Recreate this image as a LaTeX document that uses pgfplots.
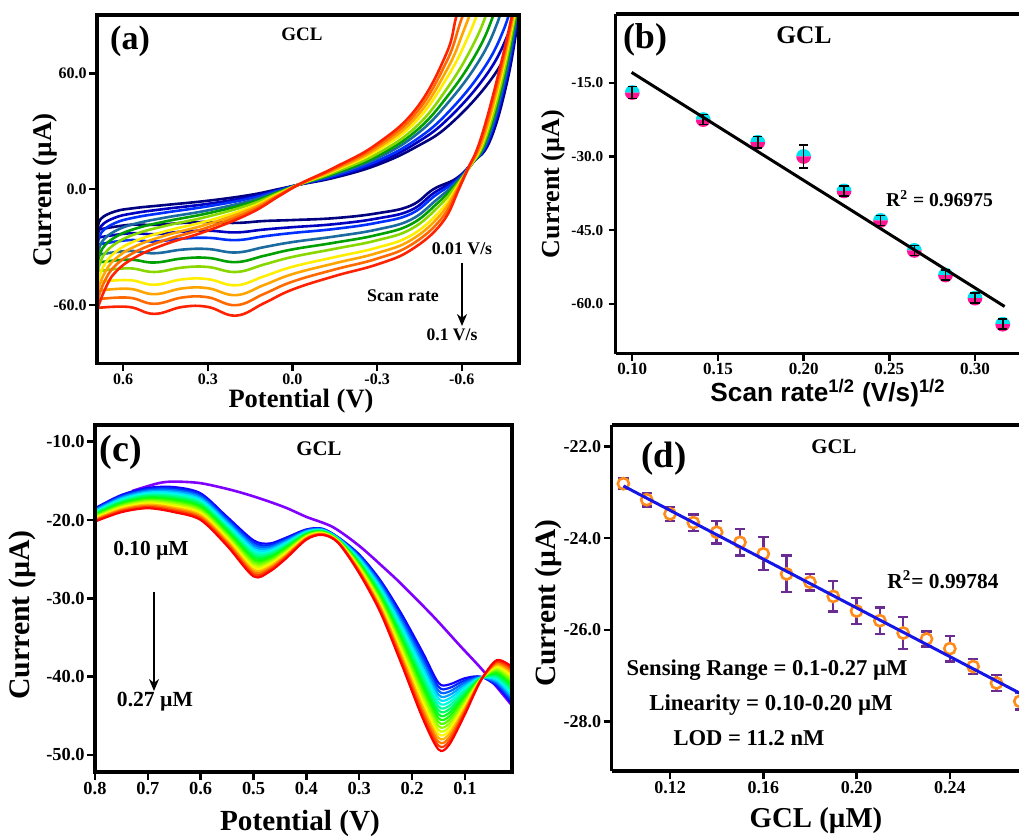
\documentclass[border=0pt]{standalone}
\usepackage{fontspec}
\setmainfont{Liberation Serif}
\newfontfamily\sansfam{Liberation Sans}
\usepackage{pgfplots}
\pgfplotsset{compat=1.18}
\usepackage{pgfplotstable}
\usetikzlibrary{arrows.meta}
\newcommand\fs[1]{\fontsize{#1}{#1}\selectfont\bfseries}
\definecolor{ca1}{HTML}{000080}
\definecolor{ca2}{HTML}{0000C0}
\definecolor{ca3}{HTML}{0030FF}
\definecolor{ca4}{HTML}{1A6BA0}
\definecolor{ca5}{HTML}{00A000}
\definecolor{ca6}{HTML}{88D800}
\definecolor{ca7}{HTML}{FFEE00}
\definecolor{ca8}{HTML}{FFA500}
\definecolor{ca9}{HTML}{FF6A00}
\definecolor{ca10}{HTML}{FF2200}
\definecolor{mkcyan}{HTML}{00E0F0}
\definecolor{mkpink}{HTML}{FF1493}
\definecolor{violetc}{HTML}{8000FF}
\definecolor{orangem}{HTML}{FF8C1A}
\definecolor{errpurple}{HTML}{6A2C91}
\definecolor{fitblue}{HTML}{1515E6}
\definecolor{r0}{rgb}{0.08,0,1}
\definecolor{r1}{rgb}{0,0.16,1}
\definecolor{r2}{rgb}{0,0.4,1}
\definecolor{r3}{rgb}{0,0.64,1}
\definecolor{r4}{rgb}{0,0.88,1}
\definecolor{r5}{rgb}{0,1,0.88}
\definecolor{r6}{rgb}{0,1,0.64}
\definecolor{r7}{rgb}{0,1,0.4}
\definecolor{r8}{rgb}{0,1,0.16}
\definecolor{r9}{rgb}{0.08,1,0}
\definecolor{r10}{rgb}{0.32,1,0}
\definecolor{r11}{rgb}{0.56,1,0}
\definecolor{r12}{rgb}{0.8,1,0}
\definecolor{r13}{rgb}{1,0.96,0}
\definecolor{r14}{rgb}{1,0.72,0}
\definecolor{r15}{rgb}{1,0.48,0}
\definecolor{r16}{rgb}{1,0.24,0}
\definecolor{r17}{rgb}{1,0,0}
\pgfdeclareplotmark{cyanpink}{%
  \pgfpathmoveto{\pgfqpoint{\pgfplotmarksize}{0pt}}%
  \pgfpatharc{0}{180}{\pgfplotmarksize}%
  \pgfpathclose
  \pgfsetfillcolor{mkcyan}\pgfusepathqfill
  \pgfpathmoveto{\pgfqpoint{-\pgfplotmarksize}{0pt}}%
  \pgfpatharc{180}{360}{\pgfplotmarksize}%
  \pgfpathclose
  \pgfsetfillcolor{mkpink}\pgfusepathqfill
}
\pgfplotstableread{
x c0 c1 c2 c3 c4 c5 c6 c7 c8 c9 c10 c11 c12 c13 c14 c15 c16 c17
0.80 -18.5 -18.6 -18.7 -18.8 -18.9 -19.0 -19.1 -19.2 -19.3 -19.4 -19.5 -19.6 -19.7 -19.8 -19.9 -20.0 -20.1 -20.2
0.75 -16.8 -16.93 -17.06 -17.19 -17.32 -17.45 -17.58 -17.71 -17.84 -17.96 -18.09 -18.22 -18.35 -18.48 -18.61 -18.74 -18.87 -19.0
0.70 -15.9 -16.05 -16.21 -16.36 -16.51 -16.66 -16.82 -16.97 -17.12 -17.28 -17.43 -17.58 -17.74 -17.89 -18.04 -18.19 -18.35 -18.5
0.65 -15.8 -15.99 -16.18 -16.36 -16.55 -16.74 -16.93 -17.12 -17.31 -17.49 -17.68 -17.87 -18.06 -18.25 -18.44 -18.62 -18.81 -19.0
0.60 -16.6 -16.8 -17.0 -17.2 -17.4 -17.6 -17.8 -18.0 -18.2 -18.4 -18.6 -18.8 -19.0 -19.2 -19.4 -19.6 -19.8 -20.0
0.55 -19.6 -19.82 -20.04 -20.25 -20.47 -20.69 -20.91 -21.12 -21.34 -21.56 -21.78 -21.99 -22.21 -22.43 -22.65 -22.86 -23.08 -23.3
0.50 -22.6 -22.87 -23.14 -23.41 -23.68 -23.95 -24.22 -24.49 -24.76 -25.04 -25.31 -25.58 -25.85 -26.12 -26.39 -26.66 -26.93 -27.2
0.47 -23.0 -23.21 -23.42 -23.64 -23.85 -24.06 -24.27 -24.48 -24.69 -24.91 -25.12 -25.33 -25.54 -25.75 -25.96 -26.18 -26.39 -26.6
0.44 -22.3 -22.46 -22.62 -22.78 -22.94 -23.09 -23.25 -23.41 -23.57 -23.73 -23.89 -24.05 -24.21 -24.36 -24.52 -24.68 -24.84 -25.0
0.40 -21.2 -21.28 -21.35 -21.43 -21.51 -21.58 -21.66 -21.74 -21.81 -21.89 -21.96 -22.04 -22.12 -22.19 -22.27 -22.35 -22.42 -22.5
0.37 -21.1 -21.15 -21.19 -21.24 -21.29 -21.34 -21.38 -21.43 -21.48 -21.52 -21.57 -21.62 -21.66 -21.71 -21.76 -21.81 -21.85 -21.9
0.34 -22.2 -22.24 -22.28 -22.32 -22.36 -22.41 -22.45 -22.49 -22.53 -22.57 -22.61 -22.65 -22.69 -22.74 -22.78 -22.82 -22.86 -22.9
0.30 -24.4 -24.54 -24.68 -24.82 -24.96 -25.11 -25.25 -25.39 -25.53 -25.67 -25.81 -25.95 -26.09 -26.24 -26.38 -26.52 -26.66 -26.8
0.26 -27.7 -27.94 -28.18 -28.42 -28.66 -28.91 -29.15 -29.39 -29.63 -29.87 -30.11 -30.35 -30.59 -30.84 -31.08 -31.32 -31.56 -31.8
0.22 -32.0 -32.38 -32.75 -33.13 -33.51 -33.88 -34.26 -34.64 -35.01 -35.39 -35.76 -36.14 -36.52 -36.89 -37.27 -37.65 -38.02 -38.4
0.18 -36.9 -37.39 -37.89 -38.38 -38.88 -39.37 -39.86 -40.36 -40.85 -41.35 -41.84 -42.34 -42.83 -43.32 -43.82 -44.31 -44.81 -45.3
0.15 -40.8 -41.3 -41.8 -42.3 -42.8 -43.3 -43.8 -44.3 -44.8 -45.3 -45.8 -46.3 -46.8 -47.3 -47.8 -48.3 -48.8 -49.3
0.13 -41.0 -41.45 -41.91 -42.36 -42.81 -43.26 -43.72 -44.17 -44.62 -45.08 -45.53 -45.98 -46.44 -46.89 -47.34 -47.79 -48.25 -48.7
0.10 -40.2 -40.47 -40.74 -41.01 -41.28 -41.55 -41.82 -42.09 -42.36 -42.64 -42.91 -43.18 -43.45 -43.72 -43.99 -44.26 -44.53 -44.8
0.07 -40.0 -40.03 -40.06 -40.09 -40.12 -40.15 -40.18 -40.21 -40.24 -40.26 -40.29 -40.32 -40.35 -40.38 -40.41 -40.44 -40.47 -40.5
0.04 -41.2 -41.01 -40.81 -40.62 -40.42 -40.23 -40.04 -39.84 -39.65 -39.45 -39.26 -39.06 -38.87 -38.68 -38.48 -38.29 -38.09 -37.9
0.012 -43.4 -43.12 -42.85 -42.57 -42.29 -42.02 -41.74 -41.46 -41.19 -40.91 -40.64 -40.36 -40.08 -39.81 -39.53 -39.25 -38.98 -38.7
}\dpv
\pgfplotsset{
  panel/.style={scale only axis, anchor=south west, axis on top,
    axis line style={line width=1.8pt},
    tick style={line width=1.2pt, black},
    major tick length=4pt, tick align=outside,
    xtick pos=left, ytick pos=left,
    ticklabel style={inner sep=1pt}},
  cv/.style={smooth, tension=0.7, line width=1.3pt},
}
\begin{document}
\begin{tikzpicture}
\useasboundingbox (0,0) rectangle (509.5pt,418.5pt);
% ---------------- (a) ----------------
\begin{axis}[panel, at={(48.5pt,236.75pt)}, width=211pt, height=174.25pt,
  x dir=reverse, xmin=-0.803, xmax=0.693, ymin=-90.3, ymax=90.2,
  xtick={-0.6,-0.3,0,0.3,0.6}, xticklabels={-0.6,-0.3,0.0,0.3,0.6},
  ytick={-60,0,60}, yticklabels={-60.0,0.0,60.0},
  ticklabel style={font={\fs{8}}}]
\addplot[cv, ca1] coordinates {(-0.81,100) (-0.80,88) (-0.76,55) (-0.70,25) (-0.64,14) (-0.58,5.5) (-0.50,0) (-0.42,-8.5) (-0.30,-12.5) (-0.15,-15) (0,-16) (0.10,-16.5) (0.20,-17.5) (0.30,-17) (0.39,-17.5) (0.49,-18.5) (0.58,-18.5) (0.69,-21)};
\addplot[cv, ca1] coordinates {(0.69,-21) (0.68,-15.5) (0.63,-11.6) (0.56,-9.8) (0.45,-8.2) (0.30,-6) (0.15,-3) (0.05,0) (-0.03,2.5) (-0.15,6) (-0.30,12.5) (-0.44,22) (-0.558,33.5) (-0.70,56) (-0.78,77) (-0.82,95)};
\addplot[cv, ca2] coordinates {(-0.807,100) (-0.798,88.2) (-0.756,55.1) (-0.696,25) (-0.638,13.6) (-0.581,4.9) (-0.503,-1.8) (-0.42,-10.9) (-0.30,-15.2) (-0.15,-18.1) (0,-19.7) (0.10,-20.9) (0.20,-22.4) (0.30,-21.5) (0.39,-22.0) (0.49,-23.3) (0.58,-22.9) (0.69,-25.1)};
\addplot[cv, ca2] coordinates {(0.69,-25.1) (0.679,-19.2) (0.63,-14.8) (0.56,-12.4) (0.45,-10.2) (0.30,-7.6) (0.15,-4.0) (0.05,-0.4) (-0.03,2.6) (-0.15,6.5) (-0.30,13.6) (-0.44,24.0) (-0.557,37.2) (-0.688,59.3) (-0.763,79.8) (-0.80,97.5)};
\addplot[cv, ca3] coordinates {(-0.805,100) (-0.796,88.4) (-0.753,55.2) (-0.693,25) (-0.636,13.3) (-0.582,4.5) (-0.506,-3.3) (-0.42,-12.8) (-0.30,-17.4) (-0.15,-20.6) (0,-22.7) (0.10,-24.4) (0.20,-26.4) (0.30,-25.2) (0.39,-25.6) (0.49,-27.1) (0.58,-26.4) (0.69,-28.7)};
\addplot[cv, ca3] coordinates {(0.69,-28.7) (0.677,-22.4) (0.63,-17.6) (0.56,-14.7) (0.45,-12.1) (0.30,-8.9) (0.15,-4.8) (0.05,-0.7) (-0.03,2.6) (-0.15,7.0) (-0.30,14.6) (-0.44,25.8) (-0.556,40.4) (-0.677,62.3) (-0.748,82.3) (-0.784,99.8)};
\addplot[cv, ca4] coordinates {(-0.802,100) (-0.793,88.6) (-0.749,55.3) (-0.689,25) (-0.634,12.7) (-0.583,3.8) (-0.51,-5.6) (-0.42,-15.8) (-0.30,-20.9) (-0.15,-24.5) (0,-27.4) (0.10,-30.0) (0.20,-32.8) (0.30,-31.0) (0.39,-31.3) (0.49,-33.2) (0.58,-32.0) (0.69,-34.0)};
\addplot[cv, ca4] coordinates {(0.69,-34.0) (0.675,-27.2) (0.63,-21.8) (0.56,-18.0) (0.45,-14.7) (0.30,-11.0) (0.15,-6.0) (0.05,-1.2) (-0.03,2.7) (-0.15,7.7) (-0.30,16.0) (-0.44,28.4) (-0.554,45.2) (-0.662,66.6) (-0.726,86.0) (-0.759,103)};
\addplot[cv, ca5] coordinates {(-0.799,100) (-0.791,88.8) (-0.745,55.4) (-0.685,25) (-0.632,12.3) (-0.584,3.2) (-0.513,-7.4) (-0.42,-18.2) (-0.30,-23.7) (-0.15,-27.7) (0,-31.2) (0.10,-34.5) (0.20,-37.8) (0.30,-35.6) (0.39,-35.9) (0.49,-38.0) (0.58,-36.5) (0.69,-38.0)};
\addplot[cv, ca5] coordinates {(0.69,-38.0) (0.674,-30.8) (0.63,-25.0) (0.56,-20.6) (0.45,-16.7) (0.30,-12.5) (0.15,-7.0) (0.05,-1.6) (-0.03,2.7) (-0.15,8.2) (-0.30,17.1) (-0.44,30.4) (-0.553,48.8) (-0.650,69.9) (-0.709,88.8) (-0.74,105.5)};
\addplot[cv, ca6] coordinates {(-0.797,100) (-0.788,89.1) (-0.741,55.5) (-0.681,25) (-0.629,11.9) (-0.585,2.6) (-0.516,-9.3) (-0.42,-20.7) (-0.30,-26.5) (-0.15,-30.9) (0,-35.1) (0.10,-39.0) (0.20,-42.9) (0.30,-40.3) (0.39,-40.6) (0.49,-42.9) (0.58,-41.0) (0.69,-42.5)};
\addplot[cv, ca6] coordinates {(0.69,-42.5) (0.672,-34.8) (0.63,-28.5) (0.56,-23.4) (0.45,-19.0) (0.30,-14.2) (0.15,-8.0) (0.05,-2.0) (-0.03,2.8) (-0.15,8.8) (-0.30,18.3) (-0.44,32.6) (-0.551,52.8) (-0.636,73.5) (-0.69,91.8) (-0.719,108.3)};
\addplot[cv, ca7] coordinates {(-0.793,100) (-0.785,89.3) (-0.736,55.7) (-0.676,25) (-0.627,11.3) (-0.587,1.8) (-0.52,-11.8) (-0.42,-24.0) (-0.30,-30.3) (-0.15,-35.2) (0,-40.2) (0.10,-45.1) (0.20,-49.8) (0.30,-46.6) (0.39,-46.7) (0.49,-49.5) (0.58,-47.1) (0.69,-48.1)};
\addplot[cv, ca7] coordinates {(0.69,-48.1) (0.67,-40.0) (0.63,-32.9) (0.56,-27.0) (0.45,-21.8) (0.30,-16.4) (0.15,-9.4) (0.05,-2.5) (-0.03,2.8) (-0.15,9.6) (-0.30,19.9) (-0.44,35.4) (-0.549,58.0) (-0.62,78.1) (-0.666,95.8) (-0.693,111.8)};
\addplot[cv, ca8] coordinates {(-0.791,100) (-0.783,89.6) (-0.732,55.8) (-0.673,25) (-0.624,10.9) (-0.588,1.2) (-0.523,-13.6) (-0.42,-26.4) (-0.30,-33.1) (-0.15,-38.4) (0,-44.0) (0.10,-49.6) (0.20,-54.9) (0.30,-51.3) (0.39,-51.4) (0.49,-54.4) (0.58,-51.6) (0.69,-52.6)};
\addplot[cv, ca8] coordinates {(0.69,-52.6) (0.668,-44.0) (0.63,-36.4) (0.56,-29.8) (0.45,-24.0) (0.30,-18.1) (0.15,-10.4) (0.05,-3.0) (-0.03,2.9) (-0.15,10.1) (-0.30,21.1) (-0.44,37.6) (-0.548,62.0) (-0.606,81.7) (-0.647,98.8) (-0.672,114.5)};
\addplot[cv, ca9] coordinates {(-0.788,100) (-0.78,89.8) (-0.728,55.9) (-0.669,25) (-0.622,10.5) (-0.589,0.6) (-0.527,-15.5) (-0.42,-28.9) (-0.30,-36.0) (-0.15,-41.6) (0,-47.9) (0.10,-54.2) (0.20,-60.1) (0.30,-56.0) (0.39,-56.1) (0.49,-59.4) (0.58,-56.2) (0.69,-57.0)};
\addplot[cv, ca9] coordinates {(0.69,-57.0) (0.667,-48.0) (0.63,-39.9) (0.56,-32.7) (0.45,-26.3) (0.30,-19.8) (0.15,-11.5) (0.05,-3.4) (-0.03,2.9) (-0.15,10.7) (-0.30,22.3) (-0.44,39.8) (-0.546,66.0) (-0.593,85.4) (-0.629,101.9) (-0.651,117.3)};
\addplot[cv, ca10] coordinates {(-0.785,100) (-0.778,90) (-0.724,56) (-0.665,25) (-0.62,10) (-0.59,0) (-0.53,-17.5) (-0.42,-31.5) (-0.30,-39) (-0.15,-45) (0,-52) (0.10,-59) (0.20,-65.5) (0.30,-61) (0.39,-61) (0.49,-64.6) (0.58,-61) (0.69,-61.5)};
\addplot[cv, ca10] coordinates {(0.69,-61.5) (0.665,-52) (0.63,-43.4) (0.56,-35.5) (0.45,-28.5) (0.30,-21.5) (0.15,-12.5) (0.05,-3.8) (-0.03,3) (-0.15,11.3) (-0.30,23.5) (-0.44,42) (-0.545,70) (-0.58,89) (-0.61,105) (-0.63,120)};
\end{axis}
% ---------------- (b) ----------------
\begin{axis}[panel, at={(307.75pt,241.75pt)}, width=201.75pt, height=169.75pt,
  axis x line*=box, axis y line*=left, xtick pos=left, ytick pos=left,
  major tick length=3.5pt, clip marker paths=true,
  xmin=0.0902, xmax=0.3257, ymin=-70.06, ymax=-1.03,
  xtick={0.10,0.15,0.20,0.25,0.30}, xticklabels={0.10,0.15,0.20,0.25,0.30},
  ytick={-60,-45,-30,-15}, yticklabels={-60.0,-45.0,-30.0,-15.0},
  xticklabel style={font={\fs{8.5}}}, yticklabel style={font={\fs{7.6}}, xshift=-1.5pt}]
\addplot[only marks, mark=cyanpink, mark size=3.7pt] table[x=x,y=y] {
x y
0.1000 -17.0
0.1414 -22.5
0.1732 -27.1
0.2000 -30.0
0.2236 -37.0
0.2449 -43.0
0.2646 -49.1
0.2828 -54.1
0.3000 -58.8
0.3162 -64.1
};
\addplot[black, line width=1.5pt] coordinates {(0.0996,-12.9) (0.3173,-60.5)};
\addplot[draw=none, mark=none, error bars/.cd, y dir=both, y explicit,
  error bar style={line width=0.8pt, draw=black},
  error mark options={rotate=90, mark size=2.3pt, line width=0.8pt, draw=black}]
  table[x=x,y=y,y error=e] {
x y e
0.1000 -17.0 1.2
0.1414 -22.5 1.0
0.1732 -27.1 1.2
0.2000 -30.0 2.3
0.2236 -37.0 1.0
0.2449 -43.0 1.0
0.2646 -49.1 1.0
0.2828 -54.1 1.0
0.3000 -58.8 1.0
0.3162 -64.1 1.0
};
\end{axis}
% ---------------- (c) ----------------
\begin{axis}[panel, at={(47.5pt,32.5pt)}, width=208.5pt, height=173.5pt,
  x dir=reverse, xmin=0.011, xmax=0.8, ymin=-52.17, ymax=-7.87,
  xtick={0.1,0.2,0.3,0.4,0.5,0.6,0.7,0.8}, xticklabels={0.1,0.2,0.3,0.4,0.5,0.6,0.7,0.8},
  ytick={-50,-40,-30,-20,-10}, yticklabels={-50.0,-40.0,-30.0,-20.0,-10.0},
  ticklabel style={font={\fs{9.2}}}]
\addplot[smooth, tension=0.5, violetc, line width=1.3pt] coordinates {(0.73,-16.3) (0.68,-15.3) (0.65,-15.1) (0.60,-15.3) (0.54,-16.2) (0.49,-17.2) (0.44,-18.4) (0.40,-19.6) (0.35,-20.9) (0.30,-23.3) (0.25,-26.3) (0.22,-28.2) (0.16,-32.3) (0.11,-36.0) (0.07,-38.9) (0.04,-41.3) (0.012,-43.6)};
\pgfplotsinvokeforeach{0,...,17}{
  \addplot[smooth, tension=0.5, color=r#1, line width=1.1pt] table[x=x, y=c#1] {\dpv};
}
\end{axis}
% ---------------- (d) ----------------
\begin{axis}[panel, at={(305.75pt,33pt)}, width=204.5pt, height=173pt,
  axis x line*=box, axis y line*=left, xtick pos=left, ytick pos=left,
  clip marker paths=true,
  xmin=0.0949, xmax=0.2703, ymin=-29.08, ymax=-21.53,
  xtick={0.12,0.16,0.20,0.24}, xticklabels={0.12,0.16,0.20,0.24},
  ytick={-28,-26,-24,-22}, yticklabels={-28.0,-26.0,-24.0,-22.0},
  ticklabel style={font={\fs{9}}}]
\addplot[draw=none, mark=none, error bars/.cd, y dir=both, y explicit,
  error bar style={line width=1.2pt, draw=errpurple},
  error mark options={rotate=90, mark size=2.6pt, line width=1.2pt, draw=errpurple}]
  table[x=x,y=y,y error=e] {
x y e
0.10 -22.81 0.11
0.11 -23.16 0.15
0.12 -23.47 0.15
0.13 -23.66 0.18
0.14 -23.87 0.25
0.15 -24.09 0.29
0.16 -24.34 0.36
0.17 -24.78 0.40
0.18 -24.96 0.18
0.19 -25.27 0.33
0.20 -25.59 0.28
0.21 -25.80 0.29
0.22 -26.07 0.35
0.23 -26.20 0.16
0.24 -26.41 0.28
0.25 -26.80 0.16
0.26 -27.16 0.18
0.27 -27.56 0.18
};
\addplot[only marks, mark=*, mark size=2.8pt, mark options={draw=orangem, fill=white, line width=1.3pt}] table[x=x,y=y] {
x y
0.10 -22.81
0.11 -23.16
0.12 -23.47
0.13 -23.66
0.14 -23.87
0.15 -24.09
0.16 -24.34
0.17 -24.78
0.18 -24.96
0.19 -25.27
0.20 -25.59
0.21 -25.80
0.22 -26.07
0.23 -26.20
0.24 -26.41
0.25 -26.80
0.26 -27.16
0.27 -27.56
};
\addplot[fitblue, line width=1.5pt] coordinates {(0.10,-22.86) (0.2703,-27.39)};
\end{axis}
% ---------------- annotations ----------------
\begin{scope}[x=0.5pt, y=-0.5pt, shift={(0pt,418.5pt)}]
% (a)
\node[font={\fs{17}}] at (130,41) {(a)};
\node[font={\fs{9.5}}] at (302,34) {GCL};
\node[font={\fs{8.9}}] at (462,248.5) {0.01 V/s};
\node[font={\fs{8.9}}] at (403,296) {Scan rate};
\node[font={\fs{8.8}}] at (452,335) {0.1 V/s};
\draw[line width=1pt, -{Stealth[length=6pt,width=5pt]}] (462,263) -- (462,326);
\node[font={\fs{13.5}}, rotate=90] at (45,190) {Current (µA)};
\node[font={\fs{13.25}}] at (301,401) {Potential (V)};
% (b)
\node[font={\fs{18}}] at (645,40) {(b)};
\node[font={\fs{12.7}}] at (804,35.7) {GCL};
\node[font={\fs{9.8}}] at (939.5,198.5) {R\textsuperscript{2} = 0.96975};
\node[font={\fs{13}}, rotate=90] at (553,184) {Current (µA)};
\node[font={\sansfam\fontsize{13.1}{14}\selectfont\bfseries}] at (828,393) {Scan rate\textsuperscript{1/2} (V/s)\textsuperscript{1/2}};
% (c)
\node[font={\fs{19}}] at (121,452) {(c)};
\node[font={\fs{10.4}}] at (319,449) {GCL};
\node[font={\fs{10.7}}] at (151,551) {0.10 µM};
\node[font={\fs{10.8}}] at (155,702) {0.27 µM};
\draw[line width=1pt, -{Stealth[length=6pt,width=5pt]}] (154,592) -- (154,691);
\node[font={\fs{14.9}}, rotate=90] at (22,615) {Current (µA)};
\node[font={\fs{14.6}}] at (300,823) {Potential (V)};
% (d)
\node[font={\fs{18.4}}] at (664,459) {(d)};
\node[font={\fs{10.4}}] at (834,446.5) {GCL};
\node[font={\fs{10.7}}] at (943,580) {R\textsuperscript{2}= 0.99784};
\node[font={\fs{11.3}}] at (767,670) {Sensing Range = 0.1-0.27 µM};
\node[font={\fs{11.4}}] at (771,705) {Linearity = 0.10-0.20 µM};
\node[font={\fs{11.3}}] at (749,738) {LOD = 11.2 nM};
\node[font={\fs{14.7}}, rotate=90] at (548,603) {Current (µA)};
\node[font={\fs{14.4}}] at (816,821) {GCL (µM)};
\end{scope}
\end{tikzpicture}
\end{document}
